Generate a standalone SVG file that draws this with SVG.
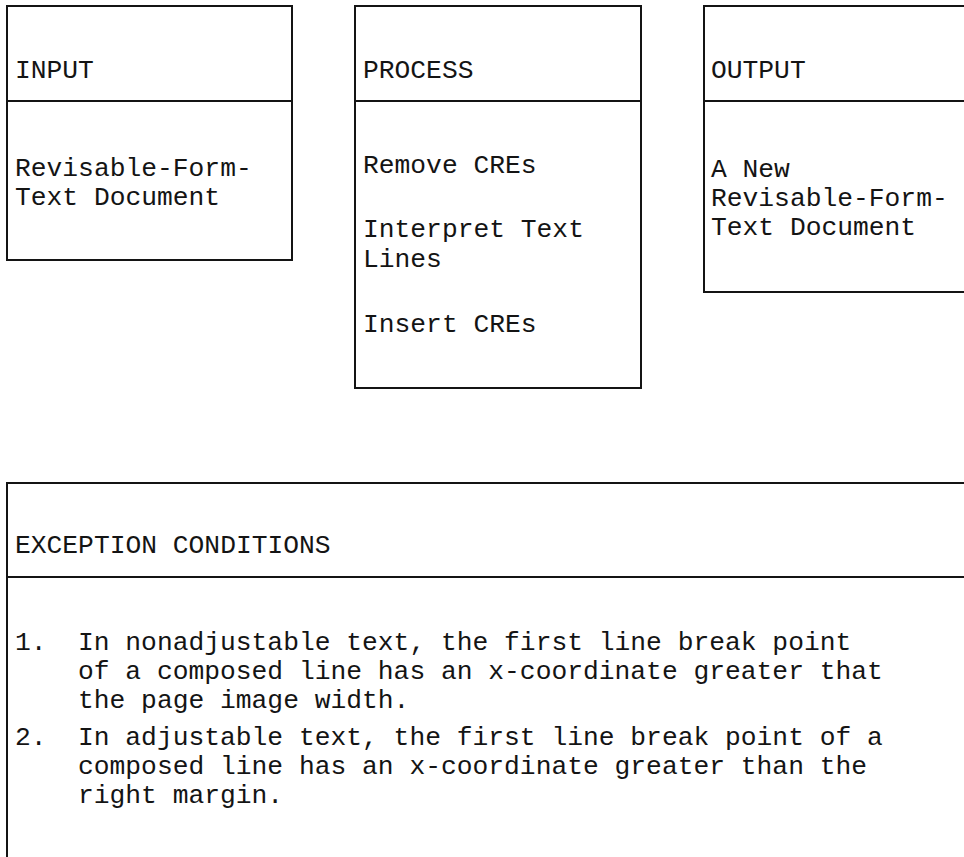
<svg xmlns="http://www.w3.org/2000/svg" width="964" height="857" viewBox="0 0 964 857">
  <style>
    .box { fill: none; stroke: #141414; stroke-width: 2; }
    .t { font-family: "Liberation Mono", "Courier New", monospace; font-size: 26.3px; fill: #141414; }
  </style>
  <rect width="964" height="857" fill="#ffffff"/>
  <g id="input">
    <rect class="box" x="7" y="6" width="285" height="254"/>
    <line class="box" x1="7" y1="101" x2="292" y2="101"/>
    <text class="t" x="15" y="78">INPUT</text>
    <text class="t" x="15" y="176">Revisable-Form-</text>
    <text class="t" x="15" y="205">Text Document</text>
  </g>
  <g id="process">
    <rect class="box" x="355" y="6" width="286" height="382"/>
    <line class="box" x1="355" y1="101" x2="641" y2="101"/>
    <text class="t" x="363" y="78">PROCESS</text>
    <text class="t" x="363" y="173">Remove CREs</text>
    <text class="t" x="363" y="237">Interpret Text</text>
    <text class="t" x="363" y="267">Lines</text>
    <text class="t" x="363" y="332">Insert CREs</text>
  </g>
  <g id="output">
    <path class="box" d="M966,6 H704 V292 H966"/>
    <line class="box" x1="704" y1="101" x2="966" y2="101"/>
    <text class="t" x="711" y="78">OUTPUT</text>
    <text class="t" x="711" y="177">A New</text>
    <text class="t" x="711" y="206">Revisable-Form-</text>
    <text class="t" x="711" y="235">Text Document</text>
  </g>
  <g id="exception-conditions">
    <path class="box" d="M966,483 H7 V860"/>
    <line class="box" x1="7" y1="577" x2="966" y2="577"/>
    <text class="t" x="15" y="553">EXCEPTION CONDITIONS</text>
    <text class="t" x="15" y="650">1.</text>
    <text class="t" x="78" y="650">In nonadjustable text, the first line break point</text>
    <text class="t" x="78" y="679">of a composed line has an x-coordinate greater that</text>
    <text class="t" x="78" y="708">the page image width.</text>
    <text class="t" x="15" y="745">2.</text>
    <text class="t" x="78" y="745">In adjustable text, the first line break point of a</text>
    <text class="t" x="78" y="774">composed line has an x-coordinate greater than the</text>
    <text class="t" x="78" y="803">right margin.</text>
  </g>
  <g id="connectors"/>
</svg>
